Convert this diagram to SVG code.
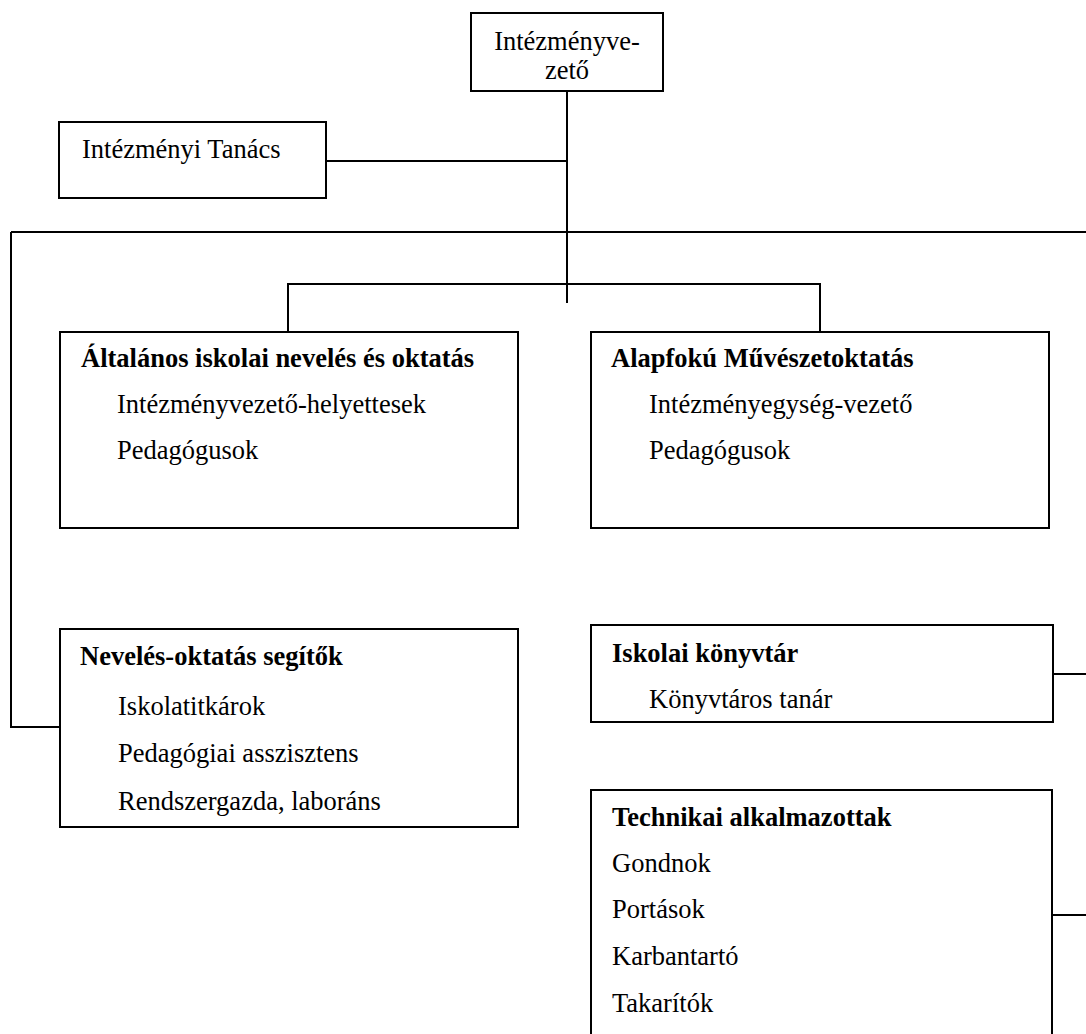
<svg xmlns="http://www.w3.org/2000/svg" width="1086" height="1034" viewBox="0 0 1086 1034">
<style>
.box{fill:#fff;stroke:#000;stroke-width:2}
.ln{fill:none;stroke:#000;stroke-width:2}
text{font-family:"Liberation Serif","Times New Roman",serif;font-size:26.5px;fill:#000}
.b{font-weight:bold}
</style>
<rect width="1086" height="1034" fill="#fff"/>
<g id="connectors">
<path class="ln" d="M567 91V303"/>
<path class="ln" d="M326 161H567"/>
<path class="ln" d="M11 232H1086"/>
<path class="ln" d="M11 232V727H60"/>
<path class="ln" d="M288 332V284H820V332"/>
<path class="ln" d="M1053 674H1086"/>
<path class="ln" d="M1052 915H1086"/>
</g>
<g id="vezeto">
<rect class="box" x="471" y="13" width="192" height="78"/>
<text x="567" y="50" text-anchor="middle">Intézményve-</text>
<text x="567" y="79" text-anchor="middle">zető</text>
</g>
<g id="tanacs">
<rect class="box" x="59" y="122" width="267" height="76"/>
<text x="82" y="158">Intézményi Tanács</text>
</g>
<g id="altalanos">
<rect class="box" x="60" y="332" width="458" height="196"/>
<text class="b" x="81" y="367">Általános iskolai nevelés és oktatás</text>
<text x="117" y="413">Intézményvezető-helyettesek</text>
<text x="117" y="459">Pedagógusok</text>
</g>
<g id="alapfoku">
<rect class="box" x="591" y="332" width="458" height="196"/>
<text class="b" x="611" y="367">Alapfokú Művészetoktatás</text>
<text x="649" y="413">Intézményegység-vezető</text>
<text x="649" y="459">Pedagógusok</text>
</g>
<g id="segitok">
<rect class="box" x="60" y="629" width="458" height="198"/>
<text class="b" x="80" y="665">Nevelés-oktatás segítők</text>
<text x="118" y="715">Iskolatitkárok</text>
<text x="118" y="762">Pedagógiai asszisztens</text>
<text x="118" y="810">Rendszergazda, laboráns</text>
</g>
<g id="konyvtar">
<rect class="box" x="591" y="625" width="462" height="97"/>
<text class="b" x="612" y="662">Iskolai könyvtár</text>
<text x="649" y="708">Könyvtáros tanár</text>
</g>
<g id="technikai">
<rect class="box" x="591" y="790" width="461" height="260"/>
<text class="b" x="612" y="826">Technikai alkalmazottak</text>
<text x="612" y="872">Gondnok</text>
<text x="612" y="918">Portások</text>
<text x="612" y="965">Karbantartó</text>
<text x="612" y="1012">Takarítók</text>
</g>
</svg>
